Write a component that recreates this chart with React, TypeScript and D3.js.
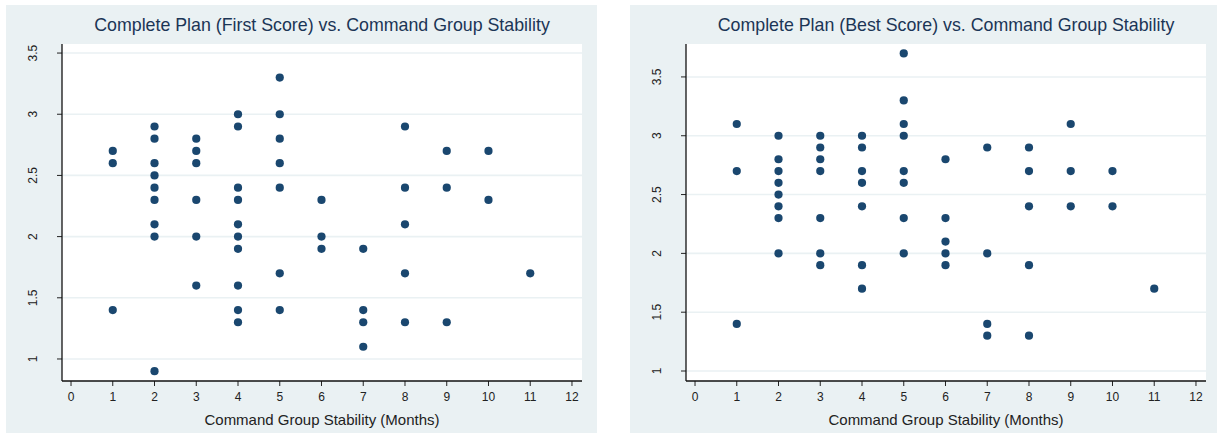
import React from "react";
import * as d3 from "d3";

// Complete Plan (First Score)
const firstMonths = [
  1, 1, 1,
  2, 2, 2, 2, 2, 2, 2, 2, 2,
  3, 3, 3, 3, 3, 3,
  4, 4, 4, 4, 4, 4, 4, 4, 4, 4,
  5, 5, 5, 5, 5, 5, 5,
  6, 6, 6,
  7, 7, 7, 7,
  8, 8, 8, 8, 8,
  9, 9, 9,
  10, 10,
  11,
];
const firstScores = [
  2.7, 2.6, 1.4,
  2.9, 2.8, 2.6, 2.5, 2.4, 2.3, 2.1, 2.0, 0.9,
  2.8, 2.7, 2.6, 2.3, 2.0, 1.6,
  3.0, 2.9, 2.4, 2.3, 2.1, 2.0, 1.9, 1.6, 1.4, 1.3,
  3.3, 3.0, 2.8, 2.6, 2.4, 1.7, 1.4,
  2.3, 2.0, 1.9,
  1.9, 1.4, 1.3, 1.1,
  2.9, 2.4, 2.1, 1.7, 1.3,
  2.7, 2.4, 1.3,
  2.7, 2.3,
  1.7,
];

// Complete Plan (Best Score)
const bestMonths = [
  1, 1, 1,
  2, 2, 2, 2, 2, 2, 2, 2,
  3, 3, 3, 3, 3, 3, 3,
  4, 4, 4, 4, 4, 4, 4,
  5, 5, 5, 5, 5, 5, 5, 5,
  6, 6, 6, 6, 6,
  7, 7, 7, 7,
  8, 8, 8, 8, 8,
  9, 9, 9,
  10, 10,
  11,
];
const bestScores = [
  3.1, 2.7, 1.4,
  3.0, 2.8, 2.7, 2.6, 2.5, 2.4, 2.3, 2.0,
  3.0, 2.9, 2.8, 2.7, 2.3, 2.0, 1.9,
  3.0, 2.9, 2.7, 2.6, 2.4, 1.9, 1.7,
  3.7, 3.3, 3.1, 3.0, 2.7, 2.6, 2.3, 2.0,
  2.8, 2.3, 2.1, 2.0, 1.9,
  2.9, 2.0, 1.4, 1.3,
  2.9, 2.7, 2.4, 1.9, 1.3,
  3.1, 2.7, 2.4,
  2.7, 2.4,
  1.7,
];

const xTicks = d3.range(0, 13);
const yTicks = [1, 1.5, 2, 2.5, 3, 3.5];
const xTitle = "Command Group Stability (Months)";

const BG = "#eaf1f3";
const NAVY = "#1a476f";
const FONT = "'Liberation Sans', Arial, Helvetica, sans-serif";

function Scatter({ left, panelW, title, months, scores, yDomain }: any) {
  const plotL = left + 56;
  const plotR = left + 576;
  const plotT = 44;
  const plotB = 381;

  const x = d3.scaleLinear().domain([-0.216, 12.24]).range([plotL, plotR]);
  const y = d3.scaleLinear().domain(yDomain).range([plotB, plotT]);
  const cx = (plotL + plotR) / 2;

  return (
    <g>
      <rect x={left} y={5} width={panelW} height={428} fill={BG} />
      <rect x={plotL} y={plotT} width={plotR - plotL} height={plotB - plotT} fill="#fff" />
      <text x={cx} y={31} textAnchor="middle" fontSize={17.8} fill="#1b3556" fontFamily={FONT}>
        {title}
      </text>
      {yTicks.map((t) => (
        <g key={t}>
          <line x1={plotL} x2={plotR} y1={y(t)} y2={y(t)} stroke={BG} strokeWidth={1.6} />
          <line x1={plotL - 5} x2={plotL} y1={y(t)} y2={y(t)} stroke="#222" strokeWidth={1} />
          <text
            transform={`translate(${plotL - 29},${y(t)}) rotate(-90)`}
            textAnchor="middle"
            dy="0.35em"
            fontSize={12}
            fill="#222"
            fontFamily={FONT}
          >
            {t}
          </text>
        </g>
      ))}
      {xTicks.map((t) => (
        <g key={t}>
          <line x1={x(t)} x2={x(t)} y1={plotB} y2={plotB + 5} stroke="#222" strokeWidth={1} />
          <text x={x(t)} y={plotB + 20} textAnchor="middle" fontSize={12} fill="#222" fontFamily={FONT}>
            {t}
          </text>
        </g>
      ))}
      <line x1={plotL} x2={plotL} y1={plotT} y2={plotB} stroke="#111" strokeWidth={1.3} />
      <line x1={plotL} x2={plotR} y1={plotB} y2={plotB} stroke="#111" strokeWidth={1.3} />
      {months.map((m: number, i: number) => (
        <circle key={i} cx={x(m)} cy={y(scores[i])} r={4.1} fill={NAVY} />
      ))}
      <text x={cx} y={425} textAnchor="middle" fontSize={15} fill="#222" fontFamily={FONT}>
        {xTitle}
      </text>
    </g>
  );
}

export default function App() {
  return (
    <svg
      width={1217}
      height={433}
      style={{ position: "absolute", left: 0, top: 0, background: "#fff" }}
    >
      <Scatter
        left={6}
        panelW={591}
        title="Complete Plan (First Score) vs. Command Group Stability"
        months={firstMonths}
        scores={firstScores}
        yDomain={[0.82, 3.574]}
      />
      <Scatter
        left={630}
        panelW={587}
        title="Complete Plan (Best Score) vs. Command Group Stability"
        months={bestMonths}
        scores={bestScores}
        yDomain={[0.915, 3.78]}
      />
    </svg>
  );
}
